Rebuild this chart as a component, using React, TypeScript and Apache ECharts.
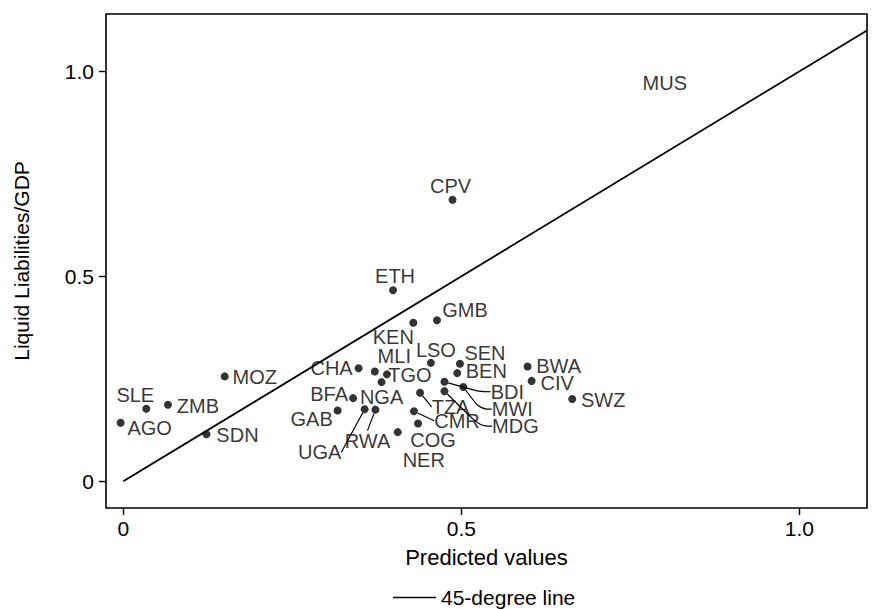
import { useEffect, useRef } from "react";
import * as echarts from "echarts";

const countries = ["AGO","SLE","ZMB","SDN","MOZ","GAB","BFA","CHA","UGA","RWA","MLI","NGA","TGO","NER","KEN","ETH","CMR","COG","TZA","LSO","GMB","BDI","MDG","CPV","BEN","SEN","MWI","BWA","CIV","SWZ","MUS"];
const predicted = [-0.004,0.034,0.066,0.123,0.150,0.317,0.340,0.348,0.357,0.373,0.372,0.382,0.390,0.406,0.429,0.399,0.430,0.436,0.439,0.455,0.464,0.475,0.475,0.487,0.494,0.498,0.503,0.598,0.604,0.664,0.801];
const liquidLiabilities = [0.143,0.177,0.187,0.115,0.256,0.173,0.203,0.276,0.176,0.175,0.268,0.242,0.261,0.120,0.387,0.466,0.171,0.141,0.216,0.289,0.393,0.243,0.220,0.687,0.264,0.287,0.230,0.280,0.245,0.201,0.971];
const noMarker = ["MUS"];
const withLeader = ["UGA","RWA","TZA","CMR"];
const curvedLeader = ["BDI","MWI","MDG"];
const lineEnds = [0, 1.1];
const xTicks = [0, 0.5, 1];
const yTicks = [0, 0.5, 1];

// label centre offsets relative to the point (pixels)
const labelOffsets: Record<string, [number, number]> = {
  AGO:[29,5], SLE:[-11,-14], ZMB:[30,1], SDN:[31,1], MOZ:[30,1], GAB:[-26,9], BFA:[-24,-4], CHA:[-27,0],
  UGA:[-45,43], RWA:[-8,31], MLI:[19.5,-15], NGA:[0,15], TGO:[23,1], NER:[26,27.5], KEN:[-20,14], ETH:[2,-14],
  CMR:[43,9.5], COG:[15,16], TZA:[30.5,14], LSO:[5,-13], GMB:[28,-10], BDI:[63,10], MDG:[71,35], CPV:[-2,-14],
  BEN:[29,-2], SEN:[25,-11], MWI:[49,22], BWA:[31,-1], CIV:[25.5,2], SWZ:[31,1], MUS:[0,0],
};

const FONT = "'Liberation Sans', Arial, Helvetica, sans-serif";

export default function App() {
  const ref = useRef<HTMLDivElement>(null);
  useEffect(() => {
    if (!ref.current) return;
    const chart = echarts.init(ref.current, null, { renderer: "svg" });
    const fmt = (v: number) => (v === 0 ? "0" : v.toFixed(1));
    const scatterData = countries.map((c, i) => {
      const item: any = { name: c, value: [predicted[i], liquidLiabilities[i]] };
      if (noMarker.includes(c)) item.symbolSize = 0;
      if (withLeader.includes(c)) item.labelLine = { show: true, length2: 0 };
      if (curvedLeader.includes(c)) item.labelLine = { show: true, length2: 12, smooth: 0.4 };
      return item;
    });
    chart.setOption({
      animation: false,
      backgroundColor: "#fff",
      textStyle: { fontFamily: FONT, color: "#000" },
      grid: { left: 106, right: 12, top: 14, bottom: 101, show: true, borderColor: "#000", borderWidth: 1.6, backgroundColor: "transparent" },
      xAxis: {
        type: "value", min: -0.0256, max: 1.1001,
        name: "Predicted values", nameLocation: "middle", nameGap: 38,
        nameTextStyle: { fontSize: 22, color: "#000", fontFamily: FONT },
        axisLine: { show: false, onZero: false },
        splitLine: { show: false },
        axisTick: { show: true, inside: false, length: 7, lineStyle: { color: "#000", width: 1.4 }, customValues: xTicks },
        axisLabel: { customValues: xTicks, formatter: fmt, fontSize: 21, color: "#000", margin: 10, fontFamily: FONT },
      },
      yAxis: {
        type: "value", min: -0.065, max: 1.14,
        name: "Liquid Liabilities/GDP", nameLocation: "middle", nameGap: 74,
        nameTextStyle: { fontSize: 21, color: "#000", fontFamily: FONT },
        axisLine: { show: false, onZero: false },
        splitLine: { show: false },
        axisTick: { show: true, inside: false, length: 7, lineStyle: { color: "#000", width: 1.4 }, customValues: yTicks },
        axisLabel: { customValues: yTicks, formatter: fmt, fontSize: 21, color: "#000", margin: 12, fontFamily: FONT },
      },
      legend: {
        data: ["45-degree line"], left: 388, top: 582,
        icon: "rect", itemWidth: 43, itemHeight: 1.6, itemGap: 8,
        textStyle: { fontSize: 21, color: "#000", fontFamily: FONT },
      },
      series: [
        {
          name: "45-degree line", type: "line", symbol: "none",
          data: lineEnds.map((v) => [v, v]),
          lineStyle: { color: "#000", width: 1.8 }, itemStyle: { color: "#000" },
          silent: true,
        },
        {
          name: "countries", type: "scatter", symbol: "circle", symbolSize: 8,
          itemStyle: { color: "#000" },
          data: scatterData,
          label: {
            show: true, position: "inside", formatter: "{b}", fontSize: 20, lineHeight: 15, color: "#000", fontFamily: FONT,
            textBorderWidth: 0,
          },
          labelLine: { show: false, lineStyle: { color: "#000", width: 1.2 } },
          labelLayout: (p: any) => {
            const off = labelOffsets[countries[p.dataIndex]] || [0, 0];
            return { dx: off[0], dy: off[1] };
          },
        },
      ],
    });
    return () => chart.dispose();
  }, []);
  return <div ref={ref} style={{ width: 879, height: 609, position: "absolute", left: 0, top: 0 }} />;
}
